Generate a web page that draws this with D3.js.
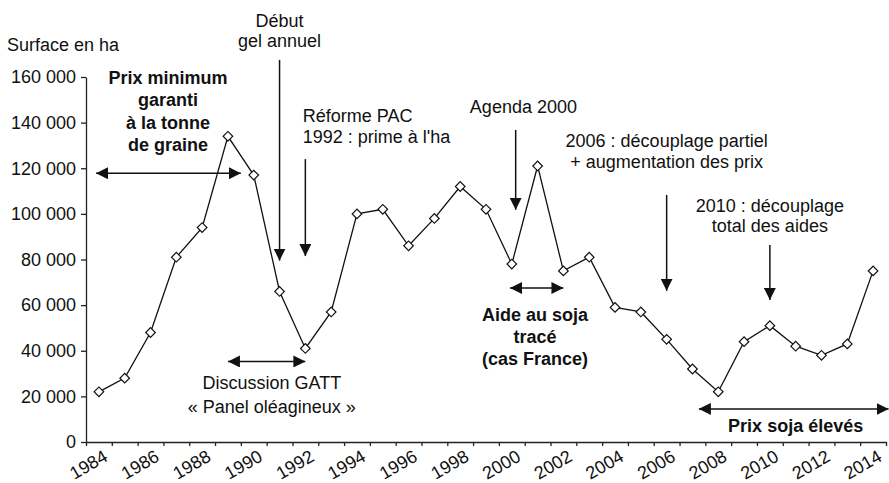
<!DOCTYPE html>
<html>
<head>
<meta charset="utf-8">
<script src="https://cdn.jsdelivr.net/npm/d3@7"></script>
<style>
  html, body { margin: 0; padding: 0; background: #fff; }
  svg { display: block; }
  text { font-family: "Liberation Sans", Arial, Helvetica, sans-serif; fill: #111; }
</style>
</head>
<body>
<svg id="chart" width="889" height="483"></svg>
<script>
// Surface de soja (ha), 1984-2014
const years = d3.range(1984, 2015);
const surface = [
  22000, 28000, 48000, 81000, 94000, 134000, 117000, 66000, 41000, 57000,
  100000, 102000, 86000, 98000, 112000, 102000, 78000, 121000, 75000, 81000,
  59000, 57000, 45000, 32000, 22000, 44000, 51000, 42000, 38000, 43000, 75000
];
const yTicks = [0, 20000, 40000, 60000, 80000, 100000, 120000, 140000, 160000];
const yearLabels = d3.range(1984, 2015, 2);

// Vertical arrows: event at a year, from a top value down to a tip value
const events = [
  { lines: ["Début", "gel annuel"], year: 1991.5, top: 167500, tip: 79500, anchor: "middle", tx: 1991.5, ty: [26.7, 46.7] },
  { lines: ["Réforme PAC", "1992 : prime à l'ha"], year: 1992.5, top: 124000, tip: 81500, anchor: "start", tx: 1992.4, ty: [122, 143] },
  { lines: ["Agenda 2000"], year: 2000.65, top: 136800, tip: 101800, anchor: "middle", tx: 2000.95, ty: [112.7] },
  { lines: ["2006 : découplage partiel", "+ augmentation des prix"], year: 2006.5, top: 108300, tip: 66300, anchor: "middle", tx: 2006.5, ty: [147.3, 168] },
  { lines: ["2010 : découplage", "total des aides"], year: 2010.5, top: 86400, tip: 62300, anchor: "middle", tx: 2010.5, ty: [211.7, 231.7] }
];

// Horizontal double arrows marking periods
const periods = [
  { from: 1984.39, to: 1990.0, value: 117800, lines: ["Prix minimum", "garanti", "à la tonne", "de graine"], bold: true, tx: 1987.18, ty: [84, 106, 128.5, 150.5] },
  { from: 1989.5, to: 1992.5, value: 35300, lines: ["Discussion GATT", "« Panel oléagineux »"], bold: false, tx: 1991.2, ty: [389.3, 413.3] },
  { from: 2000.43, to: 2002.5, value: 67500, lines: ["Aide au soja", "tracé", "(cas France)"], bold: true, tx: 2001.4, ty: [320.5, 342.5, 364.5] },
  { from: 2007.75, to: 2015.1, value: 14500, lines: ["Prix soja élevés"], bold: true, tx: 2011.5, ty: [431.7] }
];

const svg = d3.select("#chart");
const plotLeft = 86, plotRight = 886, plotTop = 77, plotBottom = 442;

const x = d3.scaleLinear().domain([1984, 2015]).range([plotLeft, plotRight]);
const y = d3.scaleLinear().domain([0, 160000]).range([plotBottom, plotTop]);
const cx = yr => x(yr + 0.5);

const fr = d3.formatLocale({ decimal: ",", thousands: " ", grouping: [3], currency: ["", ""] });
const fmt = fr.format(",d");

// Arrowhead marker
const defs = svg.append("defs");
defs.append("marker")
  .attr("id", "head")
  .attr("viewBox", "0 0 12 12")
  .attr("refX", 12).attr("refY", 6)
  .attr("markerWidth", 12).attr("markerHeight", 12)
  .attr("markerUnits", "userSpaceOnUse")
  .attr("orient", "auto-start-reverse")
  .append("path")
  .attr("d", "M0,0 L12,6 L0,12 Z")
  .attr("fill", "#111");

// Y axis
const yAxis = svg.append("g")
  .attr("transform", `translate(${plotLeft},0)`)
  .call(d3.axisLeft(y).tickValues(yTicks).tickSize(5).tickSizeOuter(0).tickPadding(5)
    .tickFormat(d => d === 0 ? "0" : fmt(d)));
yAxis.select(".domain").attr("stroke", "#222").attr("stroke-width", 1.3);
yAxis.selectAll(".tick line").attr("stroke", "#222").attr("stroke-width", 1.3);
yAxis.selectAll(".tick text")
  .style("font-family", "'Liberation Sans', Arial, sans-serif")
  .style("font-size", "18px").attr("fill", "#111");

// X axis: ticks at year boundaries, labels every other year
const xAxis = svg.append("g")
  .attr("transform", `translate(0,${plotBottom})`)
  .call(d3.axisBottom(x).tickValues(d3.range(1984, 2016)).tickSize(4).tickSizeOuter(0).tickFormat(""));
xAxis.select(".domain").attr("stroke", "#222").attr("stroke-width", 1.3);
xAxis.selectAll(".tick line").attr("stroke", "#222").attr("stroke-width", 1.3);

svg.append("g").selectAll("text")
  .data(yearLabels)
  .join("text")
  .attr("transform", d => `translate(${cx(d) + 10},${plotBottom + 18}) rotate(-30)`)
  .attr("text-anchor", "end")
  .style("font-size", "18px")
  .text(d => d);

// Axis title
svg.append("text")
  .attr("x", 7).attr("y", 51)
  .style("font-size", "18px")
  .text("Surface en ha");

// Data line
const series = years.map((yr, i) => ({ yr, v: surface[i] }));
svg.append("path")
  .datum(series)
  .attr("fill", "none")
  .attr("stroke", "#111")
  .attr("stroke-width", 1.3)
  .attr("d", d3.line().x(d => cx(d.yr)).y(d => y(d.v)));

// Diamond markers
svg.append("g").selectAll("path")
  .data(series)
  .join("path")
  .attr("transform", d => `translate(${cx(d.yr)},${y(d.v)}) rotate(45)`)
  .attr("d", d3.symbol(d3.symbolSquare, 46)())
  .attr("fill", "#fff")
  .attr("stroke", "#111")
  .attr("stroke-width", 1.2);

// Event arrows and labels
const ev = svg.append("g");
events.forEach(e => {
  ev.append("line")
    .attr("x1", x(e.year)).attr("x2", x(e.year))
    .attr("y1", y(e.top)).attr("y2", y(e.tip))
    .attr("stroke", "#111").attr("stroke-width", 1.5)
    .attr("marker-end", "url(#head)");
  e.lines.forEach((t, i) => {
    ev.append("text")
      .attr("x", x(e.tx)).attr("y", e.ty[i])
      .attr("text-anchor", e.anchor)
      .style("font-size", "18px")
      .text(t);
  });
});

// Period arrows and labels
const pe = svg.append("g");
periods.forEach(p => {
  pe.append("line")
    .attr("x1", x(p.from)).attr("x2", x(p.to))
    .attr("y1", y(p.value)).attr("y2", y(p.value))
    .attr("stroke", "#111").attr("stroke-width", 1.5)
    .attr("marker-start", "url(#head)")
    .attr("marker-end", "url(#head)");
  p.lines.forEach((t, i) => {
    pe.append("text")
      .attr("x", x(p.tx)).attr("y", p.ty[i])
      .attr("text-anchor", "middle")
      .style("font-size", "18px")
      .style("font-weight", p.bold ? "bold" : "normal")
      .text(t);
  });
});
</script>
</body>
</html>
